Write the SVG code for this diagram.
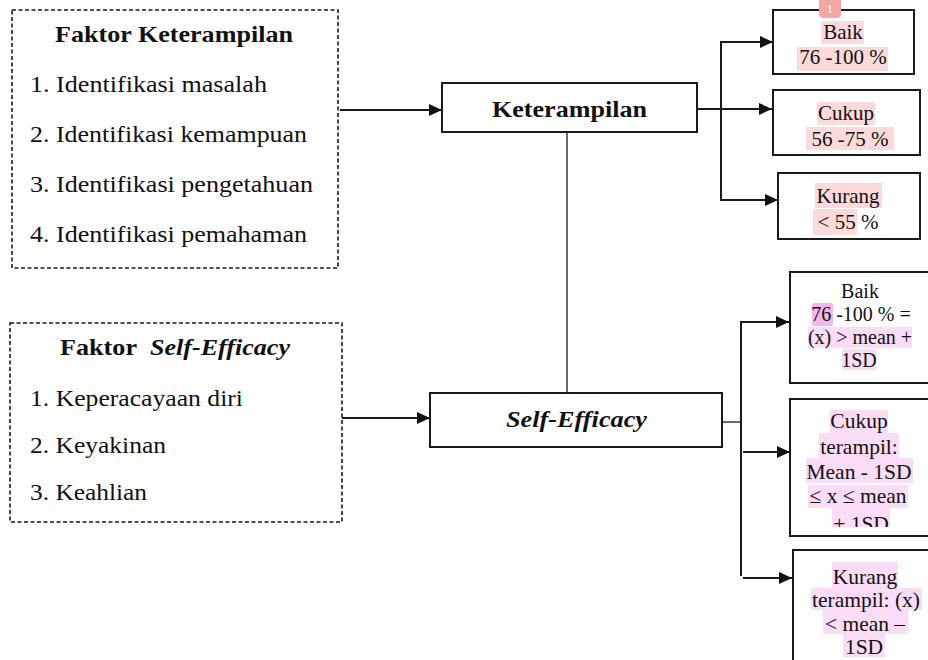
<svg xmlns="http://www.w3.org/2000/svg" width="928" height="660" viewBox="0 0 928 660" font-family="'Liberation Serif', 'Times New Roman', serif">
<style>
.box{fill:#fff;stroke:#1a1a1a;stroke-width:2}
.dbox{fill:#fff;stroke:#1a1a1a;stroke-width:1.6;stroke-dasharray:4 2.5}
.line{fill:none;stroke:#1a1a1a;stroke-width:2}
.thin{fill:none;stroke:#1a1a1a;stroke-width:1.3}
text{font-family:'Liberation Serif','Times New Roman',serif;fill:#111}
.big{font-size:23px}
.bold{font-weight:bold}
.it{font-style:italic}
.s21{font-size:21px;text-anchor:middle}
.s20{font-size:20px;text-anchor:middle}
.s215{font-size:21.5px;text-anchor:middle}
.hr{fill:#fcdada}
.hm{fill:#fadcf7}
.hs{fill:#f2b5ee}
</style>
<defs>
<marker id="arr" markerUnits="userSpaceOnUse" markerWidth="14" markerHeight="12" refX="13" refY="6" orient="auto">
<path d="M0,0 L13,6 L0,12 Z" fill="#111"/>
</marker>
<clipPath id="clipC2"><rect x="790" y="400" width="140" height="127"/></clipPath>
</defs>

<g id="connectors">
<line class="line" x1="340" y1="110" x2="442" y2="110" marker-end="url(#arr)"/>
<line class="line" x1="342" y1="418" x2="430" y2="418" marker-end="url(#arr)"/>
<line class="thin" x1="567" y1="132" x2="567" y2="393"/>
<line class="line" x1="698" y1="109" x2="772" y2="109" marker-end="url(#arr)"/>
<line class="line" x1="721" y1="42" x2="721" y2="200"/>
<line class="line" x1="720" y1="42" x2="773" y2="42" marker-end="url(#arr)"/>
<line class="line" x1="720" y1="200" x2="778" y2="200" marker-end="url(#arr)"/>
<line class="thin" x1="722" y1="422" x2="741" y2="422"/>
<line class="line" x1="741" y1="322" x2="741" y2="576"/>
<line class="line" x1="740" y1="322" x2="789" y2="322" marker-end="url(#arr)"/>
<line class="line" x1="743" y1="452" x2="790" y2="452" marker-end="url(#arr)"/>
<line class="line" x1="743" y1="578" x2="792" y2="578" marker-end="url(#arr)"/>
</g>

<g id="faktor-keterampilan">
<rect class="dbox" x="12" y="10" width="326" height="258"/>
<text class="big bold" x="55" y="42" textLength="238" lengthAdjust="spacingAndGlyphs">Faktor Keterampilan</text>
<text class="big" x="30" y="92" textLength="237" lengthAdjust="spacingAndGlyphs">1. Identifikasi masalah</text>
<text class="big" x="30" y="142" textLength="277" lengthAdjust="spacingAndGlyphs">2. Identifikasi kemampuan</text>
<text class="big" x="30" y="192" textLength="283" lengthAdjust="spacingAndGlyphs">3. Identifikasi pengetahuan</text>
<text class="big" x="30" y="242" textLength="277" lengthAdjust="spacingAndGlyphs">4. Identifikasi pemahaman</text>
</g>

<g id="faktor-self-efficacy">
<rect class="dbox" x="10" y="323" width="332" height="199"/>
<text class="big bold" x="60" y="355" textLength="77" lengthAdjust="spacingAndGlyphs">Faktor</text>
<text class="big bold it" x="150" y="355" textLength="140" lengthAdjust="spacingAndGlyphs">Self-Efficacy</text>
<text class="big" x="30" y="406" textLength="213" lengthAdjust="spacingAndGlyphs">1. Keperacayaan diri</text>
<text class="big" x="30" y="453" textLength="136" lengthAdjust="spacingAndGlyphs">2. Keyakinan</text>
<text class="big" x="30" y="500" textLength="117" lengthAdjust="spacingAndGlyphs">3. Keahlian</text>
</g>

<g id="keterampilan">
<rect class="box" x="442" y="83" width="255" height="49"/>
<text class="big bold" x="492" y="117" textLength="155" lengthAdjust="spacingAndGlyphs">Keterampilan</text>
</g>

<g id="self-efficacy">
<rect class="box" x="430" y="393" width="292" height="54"/>
<text class="big bold it" x="506" y="427" textLength="141" lengthAdjust="spacingAndGlyphs">Self-Efficacy</text>
</g>

<g id="baik-1">
<rect class="box" x="773" y="10" width="141" height="64"/>
<rect class="hr" x="821" y="21" width="43" height="23"/>
<rect class="hr" x="797" y="47" width="91" height="24"/>
<text class="s21" x="843" y="39">Baik</text>
<text class="s21" x="843" y="64">76 -100 %</text>
<rect x="819" y="-5" width="22" height="23" rx="4" fill="#f3a6a6"/>
<text x="830" y="13" font-size="12" text-anchor="middle" style="fill:#fff">1</text>
</g>

<g id="cukup-1">
<rect class="box" x="773" y="90" width="147" height="65"/>
<rect class="hr" x="817" y="102" width="58" height="23"/>
<rect class="hr" x="806" y="127" width="88" height="23"/>
<text class="s21" x="846" y="120">Cukup</text>
<text class="s21" x="850" y="146">56 -75 %</text>
</g>

<g id="kurang-1">
<rect class="box" x="778" y="173" width="142" height="66"/>
<rect class="hr" x="815" y="183" width="67" height="25"/>
<rect class="hr" x="813" y="209" width="44" height="26"/>
<text class="s21" x="848" y="203">Kurang</text>
<text class="s21" x="848" y="229">&lt; 55 %</text>
</g>

<g id="baik-2">
<rect class="box" x="790" y="272" width="150" height="111"/>
<rect class="hs" x="812" y="303" width="21" height="23" rx="3"/>
<rect class="hm" x="808" y="327" width="104" height="21"/>
<rect class="hm" x="842" y="349" width="34" height="21"/>
<text class="s20" x="860" y="298">Baik</text>
<text class="s20" x="861" y="321">76 -100 % =</text>
<text class="s20" x="860" y="344">(x) &gt; mean +</text>
<text class="s20" x="859" y="367">1SD</text>
</g>

<g id="cukup-2">
<rect class="box" x="790" y="399" width="150" height="137"/>
<g clip-path="url(#clipC2)">
<rect class="hm" x="830" y="410" width="58" height="23"/>
<rect class="hm" x="819" y="433" width="80" height="25"/>
<rect class="hm" x="806" y="458" width="107" height="25"/>
<rect class="hm" x="808" y="485" width="100" height="23"/>
<rect class="hm" x="832" y="508" width="58" height="24"/>
<text class="s215" x="859" y="428">Cukup</text>
<text class="s215" x="859" y="454">terampil:</text>
<text class="s215" x="859" y="479">Mean - 1SD</text>
<text class="s215" x="858" y="503">≤ x ≤ mean</text>
<text class="s215" x="861" y="531">+ 1SD</text>
</g>
</g>

<g id="kurang-2">
<rect class="box" x="793" y="550" width="147" height="120"/>
<rect class="hm" x="832" y="562" width="66" height="26"/>
<rect class="hm" x="811" y="588" width="111" height="22"/>
<rect class="hm" x="823" y="610" width="85" height="24"/>
<rect class="hm" x="843" y="634" width="42" height="23"/>
<text class="s215" x="865" y="584">Kurang</text>
<text class="s215" x="866" y="607">terampil: (x)</text>
<text class="s215" x="865" y="631">&lt; mean –</text>
<text class="s215" x="864" y="654">1SD</text>
</g>
</svg>
